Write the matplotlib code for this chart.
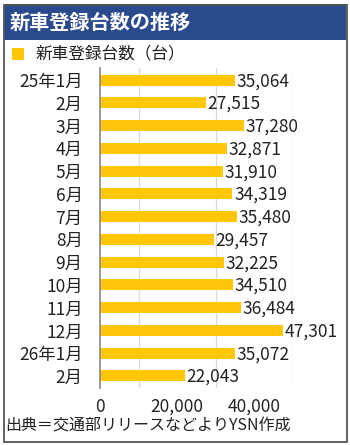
import matplotlib.pyplot as plt
from matplotlib.patches import Rectangle

plt.rcParams['font.family'] = ['Noto Sans CJK JP', 'DejaVu Sans']

months = ["25年1月", "2月", "3月", "4月", "5月", "6月", "7月", "8月",
          "9月", "10月", "11月", "12月", "26年1月", "2月"]
registrations = [35064, 27515, 37280, 32871, 31910, 34319, 35480, 29457,
                 32225, 34510, 36484, 47301, 35072, 22043]
x_ticks = [0, 20000, 40000]

title = "新車登録台数の推移"
legend_label = "新車登録台数（台）"
source = "出典＝交通部リリースなどよりYSN作成"

bar_color = "#FFC60A"
blue = "#2A4A8E"
txt = "#222222"

fig = plt.figure(figsize=(3.5, 4.45), dpi=100)
W, H = 350, 445

# outer frame and title band
fig.patches.append(Rectangle((3.5 / W, 3.5 / H), 343 / W, 437 / H, transform=fig.transFigure,
                             facecolor="none", edgecolor="#555555", linewidth=1.3, zorder=5))
fig.patches.append(Rectangle((4 / W, 1 - 40 / H), 342 / W, 36 / H, transform=fig.transFigure,
                             facecolor=blue, edgecolor="none", zorder=1))
fig.text(10 / W, 1 - 22 / H, title, color="white", fontsize=14.5, fontweight="bold",
         va="center", ha="left")

# legend
fig.patches.append(Rectangle((12 / W, 1 - 60 / H), 12 / W, 12 / H, transform=fig.transFigure,
                             facecolor=bar_color, edgecolor="none"))
fig.text(36 / W, 1 - 54 / H, legend_label, fontsize=12, va="center", ha="left", color=txt)

ax = fig.add_axes([100 / W, 1 - 388 / H, 193 / W, 320 / H])
y = range(len(months))
ax.barh(y, registrations, height=0.48, color=bar_color, zorder=2)
for yi, v in zip(y, registrations):
    ax.text(v + 400, yi + 0.05, f"{v:,}", va="center", ha="left", fontsize=12.5, color=txt)

ax.set_xlim(0, 50000)
ax.set_ylim(len(months) - 0.47, -0.53)
ax.set_yticks(list(y))
ax.set_yticklabels(months, fontsize=12.5, color=txt)
ax.set_xticks(x_ticks)
ax.set_xticklabels([f"{t:,}" for t in x_ticks], fontsize=12.5, color=txt)
ax.set_xticks(range(0, 50001, 10000), minor=True)
ax.grid(axis="x", which="minor", color="#d9d9d9", linewidth=0.9, zorder=0)
ax.tick_params(length=0, which="both")
ax.tick_params(axis="y", pad=12.5)
ax.tick_params(axis="x", pad=7)
for s in ["top", "right", "bottom"]:
    ax.spines[s].set_visible(False)
ax.spines["left"].set_color("#888888")
ax.spines["left"].set_linewidth(1.2)
ax.spines["left"].set_zorder(3)

fig.text(5 / W, 1 - 426 / H, source, fontsize=11.5, va="center", ha="left", color=txt)

fig.savefig("out.png", dpi=100)
